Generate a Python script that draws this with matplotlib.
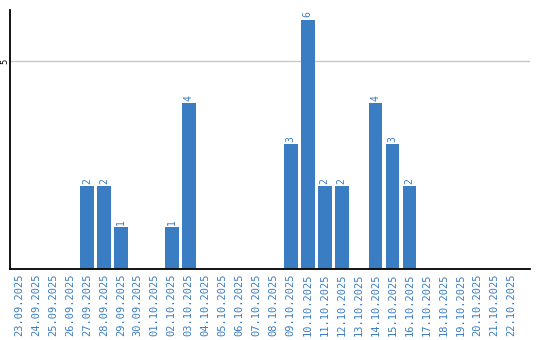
import matplotlib.pyplot as plt

dates = ['23.09.2025', '24.09.2025', '25.09.2025', '26.09.2025', '27.09.2025',
         '28.09.2025', '29.09.2025', '30.09.2025', '01.10.2025', '02.10.2025',
         '03.10.2025', '04.10.2025', '05.10.2025', '06.10.2025', '07.10.2025',
         '08.10.2025', '09.10.2025', '10.10.2025', '11.10.2025', '12.10.2025',
         '13.10.2025', '14.10.2025', '15.10.2025', '16.10.2025', '17.10.2025',
         '18.10.2025', '19.10.2025', '20.10.2025', '21.10.2025', '22.10.2025']
counts = [0, 0, 0, 0, 2, 2, 1, 0, 0, 1, 4, 0, 0, 0, 0,
          0, 3, 6, 2, 2, 0, 4, 3, 2, 0, 0, 0, 0, 0, 0]

blue = '#3a7dc2'

fig = plt.figure(figsize=(5.4, 3.4), dpi=100)
ax = fig.add_axes([0.0194, 0.2088, 0.9621, 0.7618])

x = range(len(dates))
bars = ax.bar(x, counts, width=0.82, color=blue, zorder=2)

for xi, v in zip(x, counts):
    if v > 0:
        ax.text(xi, v + 0.05, str(v), rotation=90, ha='center', va='bottom',
                color=blue, fontsize=7, family='DejaVu Sans Mono')

ax.set_xlim(-0.5, 30.1)
ax.set_ylim(0, 6.23)
ax.set_yticks([5])
ax.set_yticklabels(['5'], rotation=90, va='center', fontsize=6)
ax.yaxis.grid(True, color='#c8c8c8', linewidth=1, zorder=0)
ax.set_xticks(list(x))
ax.set_xticklabels(dates, rotation=90, color=blue, fontsize=7.5,
                   family='DejaVu Sans Mono')
ax.tick_params(axis='both', length=0, pad=3)
ax.tick_params(axis='y', pad=0.5)

for side in ['top', 'right']:
    ax.spines[side].set_visible(False)
for side in ['left', 'bottom']:
    ax.spines[side].set_linewidth(1.3)
    ax.spines[side].set_color('black')

fig.savefig('out.png', dpi=100)
